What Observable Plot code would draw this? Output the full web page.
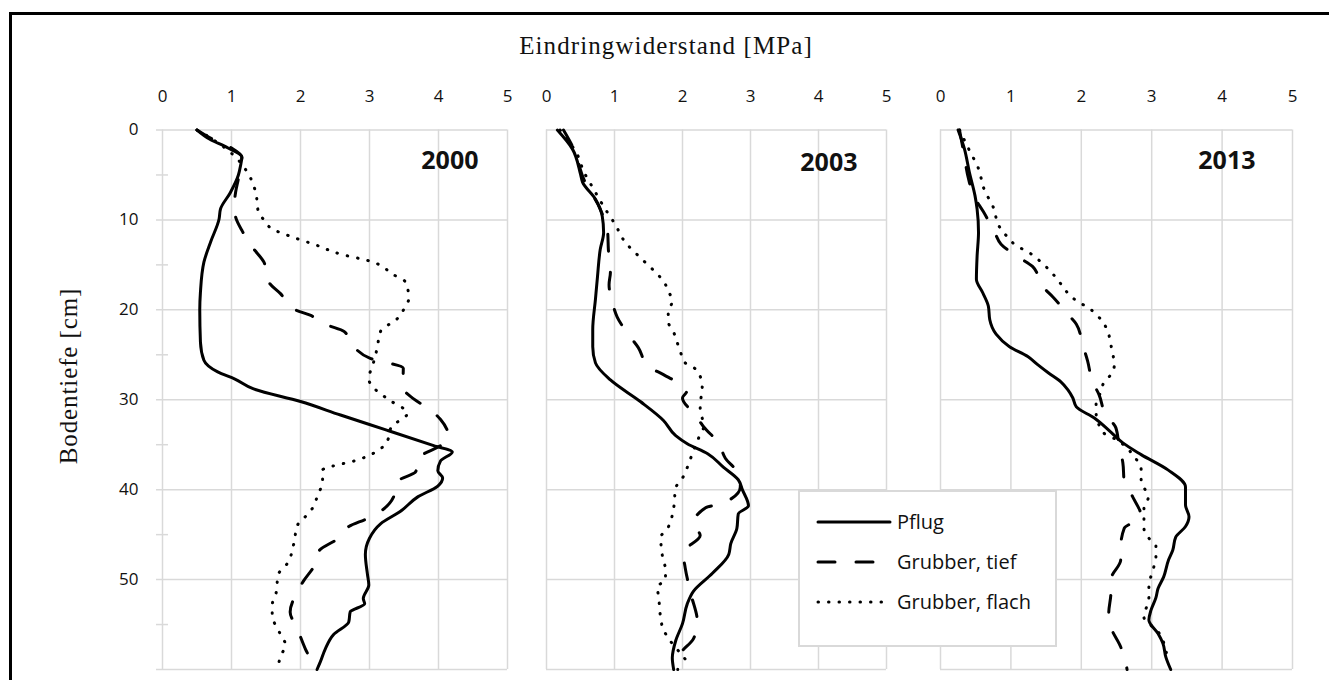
<!DOCTYPE html>
<html><head><meta charset="utf-8">
<script src="https://cdn.jsdelivr.net/npm/d3@7"></script>
<script src="https://cdn.jsdelivr.net/npm/@observablehq/plot@0.6"></script>
<style>
html,body{margin:0;padding:0;background:#fff;}
#chart{position:relative;width:1329px;height:680px;overflow:hidden;background:#fff;}
.frame{position:absolute;left:9px;top:12px;width:1400px;height:800px;border:3px solid #000;}
.title{position:absolute;left:366px;width:600px;top:33px;text-align:center;font-family:"Liberation Serif","Times New Roman",serif;font-size:25px;letter-spacing:1.1px;line-height:25px;color:#111;white-space:nowrap;}
.ylab{position:absolute;left:68px;top:376px;transform:translate(-50%,-50%) rotate(-90deg);font-family:"Liberation Serif","Times New Roman",serif;font-size:25px;letter-spacing:0.9px;line-height:25px;color:#111;white-space:nowrap;}
.panel{position:absolute;top:0;}
.legend{position:absolute;left:798px;top:490px;width:255px;height:153px;border:2px solid #d9d9d9;background:#fff;}
.legend .row{position:absolute;left:0;height:24px;width:255px;}
.legend svg{position:absolute;left:16px;top:6px;}
.legend span{position:absolute;left:97px;top:0;font-family:"Open Sans",sans-serif;font-size:20px;line-height:24px;color:#111;white-space:nowrap;}
</style>
</head><body>
<div id="chart">
  <div class="frame"></div>
  <div class="title">Eindringwiderstand [MPa]</div>
  <div class="ylab">Bodentiefe [cm]</div>
</div>
<script>
// ---- data: [depth cm, penetration resistance MPa] ----
const years = ["2000", "2003", "2013"];
const seriesNames = ["Pflug", "Grubber, tief", "Grubber, flach"];
const xTicks = [0, 1, 2, 3, 4, 5];
const yTicks = [0, 10, 20, 30, 40, 50];
const yGrid = [0, 10, 20, 30, 40, 50, 60];
const yMinor = [5, 15, 25, 35, 45, 55];

const pflug2000 = [[0,0.5],[1,0.68],[2,0.95],[3,1.15],[4,1.13],[5,1.1],[7,0.98],[8.8,0.84],[9.9,0.82],[12.4,0.7],[14.7,0.6],[18,0.55],[20,0.54],[23.6,0.55],[25.6,0.6],[26.9,0.8],[27.7,1.05],[28.8,1.32],[30.2,2.0],[31.7,2.58],[33.4,3.26],[35.1,3.93],[35.8,4.2],[36.8,4.03],[37.9,3.99],[38.7,4.06],[39.6,3.99],[40.8,3.7],[42.4,3.45],[43.8,3.16],[45.4,3.0],[47.2,2.94],[49.4,2.97],[50.6,2.99],[52.1,2.91],[52.7,2.93],[53.6,2.72],[54.7,2.7],[56.1,2.48],[57.7,2.36],[59.1,2.29],[60,2.24]];
const tief2000 = [[0,0.5],[1,0.72],[2,1.0],[3,1.15],[5.4,1.1],[6.9,1.06],[8.5,1.04],[9.7,1.06],[11.3,1.16],[13.2,1.32],[14.7,1.47],[16.9,1.54],[18.2,1.71],[19.9,1.9],[20.6,2.14],[21.7,2.39],[22.4,2.63],[24.1,2.77],[25.4,3.01],[26.5,3.49],[28.6,3.48],[29.9,3.64],[31.1,3.88],[32.2,4.03],[34.3,4.15],[35,4.05],[36.5,3.71],[38,3.67],[39.1,3.4],[40.8,3.35],[42.4,3.16],[43.2,2.97],[44.1,2.7],[45.4,2.55],[46.9,2.26],[48.2,2.22],[50.2,2.04],[51.7,1.93],[53.6,1.85],[55.4,1.95],[57.7,2.07],[59.3,2.17],[60,2.2]];
const flach2000 = [[0,0.5],[1.1,0.74],[2.8,1.03],[4.7,1.23],[6.9,1.35],[9.1,1.39],[10,1.47],[11,1.59],[11.9,1.88],[12.7,2.19],[13.9,2.63],[14.5,2.97],[16.1,3.35],[16.9,3.52],[18.7,3.57],[19.9,3.5],[21,3.4],[22.4,3.16],[24.3,3.11],[25.8,3.06],[27.7,2.99],[28.9,3.09],[30,3.28],[31.5,3.55],[33.1,3.31],[34.2,3.28],[35.9,3.07],[36.8,2.78],[37.4,2.46],[37.8,2.32],[39.1,2.32],[40.6,2.25],[42.1,2.17],[43,2.07],[43.9,1.96],[46.1,1.9],[48.2,1.81],[49.4,1.68],[51.7,1.64],[52.8,1.59],[53.9,1.59],[56.1,1.71],[57.2,1.78],[58.6,1.71],[59.7,1.67]];

const pflug2003 = [[0,0.16],[2.1,0.38],[4.9,0.5],[5.8,0.53],[7.7,0.72],[9.6,0.82],[11.4,0.84],[13.3,0.79],[16.3,0.75],[18.8,0.72],[22.2,0.68],[24.1,0.68],[25.9,0.72],[27.8,0.94],[30.2,1.38],[32.3,1.72],[34,1.9],[34.9,2.07],[36,2.37],[37.5,2.6],[38.9,2.82],[40,2.88],[41.8,2.97],[42.7,2.82],[44.3,2.8],[46,2.71],[47.2,2.68],[49.3,2.44],[51.3,2.16],[52.7,2.07],[54.9,2.0],[56.8,1.9],[58.7,1.85],[60,1.87]];
const tief2003 = [[0,0.25],[2.1,0.4],[5.5,0.55],[8.8,0.79],[11.4,0.9],[13.3,0.91],[15.8,0.94],[17.2,0.92],[19.2,0.97],[20.8,1.04],[22.7,1.2],[24.2,1.35],[26.3,1.5],[27.2,1.72],[28.3,1.97],[29.1,2.06],[29.8,2.0],[31.7,2.19],[33,2.31],[34.8,2.53],[36.5,2.63],[38.1,2.81],[39.7,2.85],[41.5,2.6],[42,2.34],[43.8,2.16],[45.1,2.26],[47,2.01],[48.7,2.04],[51.5,2.12],[54.8,2.22],[56.6,2.16],[58.2,1.97],[59.3,1.93],[60,1.93]];
const flach2003 = [[0,0.2],[3,0.47],[4.5,0.54],[6.4,0.68],[8.5,0.84],[10.5,1.01],[12.5,1.16],[14.2,1.38],[15.8,1.6],[16.8,1.72],[17.9,1.79],[19,1.85],[20.3,1.79],[21.3,1.79],[22.5,1.87],[24.7,1.97],[25.9,2.04],[26.4,2.16],[27.4,2.26],[28.5,2.29],[30.8,2.26],[33,2.31],[34.2,2.24],[36.5,2.12],[38.7,2.0],[39.8,1.9],[42,1.87],[44.3,1.78],[45.3,1.68],[47.6,1.71],[48.9,1.75],[50,1.75],[50.8,1.63],[52,1.65],[54.3,1.68],[55.4,1.71],[56.5,1.79],[58.2,1.97],[59.3,2.09]];

const pflug2013 = [[0,0.25],[2.1,0.34],[4.7,0.41],[7.3,0.49],[8.8,0.52],[11.4,0.54],[14,0.52],[16.6,0.51],[18.1,0.6],[19.6,0.68],[21.1,0.7],[22.7,0.79],[24.1,0.98],[25.2,1.24],[26.1,1.38],[27,1.53],[28,1.71],[28.9,1.81],[29.8,1.88],[30.8,1.93],[32,2.18],[33.6,2.42],[34.8,2.59],[36.1,2.85],[37.8,3.23],[39.7,3.48],[41.7,3.48],[43,3.53],[44.1,3.48],[45.3,3.34],[46.7,3.3],[47.8,3.24],[49.7,3.17],[51,3.09],[52,3.06],[53.4,2.99],[54.5,2.96],[56,3.09],[57.1,3.16],[58.6,3.2],[60,3.27]];
const tief2013 = [[0,0.27],[2.5,0.33],[5.5,0.4],[7.3,0.47],[9.1,0.61],[11.4,0.77],[12.7,0.86],[14.2,1.12],[15.2,1.31],[17.4,1.45],[18.6,1.6],[20.5,1.81],[21.6,1.93],[23.9,2.02],[25.7,2.09],[28,2.16],[29.4,2.25],[31.7,2.35],[33.1,2.49],[35.3,2.54],[37,2.59],[39.1,2.61],[40.8,2.73],[43,2.85],[44.3,2.61],[46.4,2.56],[47.8,2.56],[50,2.42],[51.5,2.42],[53.7,2.39],[55.3,2.42],[57.5,2.56],[59.2,2.63],[60,2.65]];
const flach2013 = [[0,0.27],[2.1,0.4],[4.3,0.54],[6.6,0.62],[8.6,0.75],[10.8,0.84],[11.8,0.94],[12.7,1.05],[13.8,1.29],[14.7,1.43],[16.4,1.64],[18.3,1.83],[19.1,1.95],[19.7,2.09],[20.5,2.21],[21.4,2.31],[22.5,2.38],[23.9,2.42],[25,2.45],[26.1,2.47],[27.2,2.42],[28.1,2.32],[29.1,2.28],[30.3,2.21],[31.4,2.21],[33.7,2.32],[34.4,2.49],[36.3,2.75],[37.8,2.85],[38.9,2.85],[40.9,2.95],[42,2.89],[44.3,2.89],[45.4,2.96],[46.2,3.06],[47.5,3.06],[48.6,3.03],[50.8,2.96],[52,2.96],[54.2,2.89],[55.1,2.99],[55.9,3.1],[57.9,3.2],[59.2,3.24]];

const panelSeries = {
  "2000": [pflug2000, tief2000, flach2000],
  "2003": [pflug2003, tief2003, flach2003],
  "2013": [pflug2013, tief2013, flach2013]
};

// ---- styling / layout ----
const dashes = [null, "17,21", "0.5,10"];
const gridColor = "#d9d9d9";
const panels = [
  {year: "2000", left: 0,   width: 527, ml: 162, mr: 20, yearDx: -29, yearDy: 21, yAxis: true},
  {year: "2003", left: 527, width: 385, ml: 19,  mr: 26, yearDx: -29, yearDy: 23, yAxis: false},
  {year: "2013", left: 912, width: 417, ml: 28,  mr: 37, yearDx: -37, yearDy: 21, yAxis: false}
];

const chart = document.getElementById("chart");
const toRows = arr => arr.map(([d, v]) => ({d, v}));

for (const p of panels) {
  const marks = [
    Plot.ruleX(xTicks, {stroke: gridColor, strokeWidth: 1.5}),
    Plot.ruleY(yGrid, {stroke: gridColor, strokeWidth: 1.5, insetLeft: p.yAxis ? -6 : 0}),
    Plot.axisX(xTicks, {anchor: "top", tickSize: 0, tickPadding: 28, fontSize: 17, fill: "#111", label: null})
  ];
  if (p.yAxis) {
    marks.push(Plot.ruleY(yMinor, {x1: 0, x2: 0, insetLeft: -6, insetRight: -6, stroke: gridColor, strokeWidth: 1.5}));
    marks.push(Plot.axisY(yTicks, {anchor: "left", tickSize: 0, tickPadding: 24, fontSize: 17, fill: "#111", label: null}));
  }
  panelSeries[p.year].forEach((s, i) => {
    marks.push(Plot.line(toRows(s), {
      x: "v", y: "d", curve: "monotone-y",
      stroke: "#000", strokeWidth: 3,
      strokeDasharray: dashes[i] || undefined,
      strokeLinecap: "round", strokeLinejoin: "round"
    }));
  });
  marks.push(Plot.text([p.year], {
    frameAnchor: "top-right", text: d => d, dx: p.yearDx, dy: p.yearDy,
    fontSize: 25, fontWeight: "bold", fill: "#111", fontFamily: "Open Sans"
  }));

  const svg = Plot.plot({
    width: p.width, height: 680,
    marginLeft: p.ml, marginRight: p.mr, marginTop: 129.5, marginBottom: 11,
    x: {domain: [0, 5], label: null},
    y: {domain: [0, 60], reverse: true, label: null, axis: p.yAxis ? undefined : null},
    style: {background: "transparent", fontFamily: "Open Sans", fontSize: "17px", overflow: "visible"},
    marks
  });
  const wrap = document.createElement("div");
  wrap.className = "panel";
  wrap.style.left = p.left + "px";
  wrap.appendChild(svg);
  chart.appendChild(wrap);
}

// ---- legend ----
const legend = document.createElement("div");
legend.className = "legend";
const rowTops = [18, 58, 98];
seriesNames.forEach((name, i) => {
  const row = document.createElement("div");
  row.className = "row";
  row.style.top = rowTops[i] + "px";
  const dash = dashes[i] ? ` stroke-dasharray="${dashes[i]}"` : "";
  row.innerHTML = `<svg width="78" height="12"><line x1="2" y1="6" x2="74" y2="6" stroke="#000" stroke-width="3" stroke-linecap="round"${dash}/></svg><span>${name}</span>`;
  legend.appendChild(row);
});
chart.appendChild(legend);
</script>
</body></html>
